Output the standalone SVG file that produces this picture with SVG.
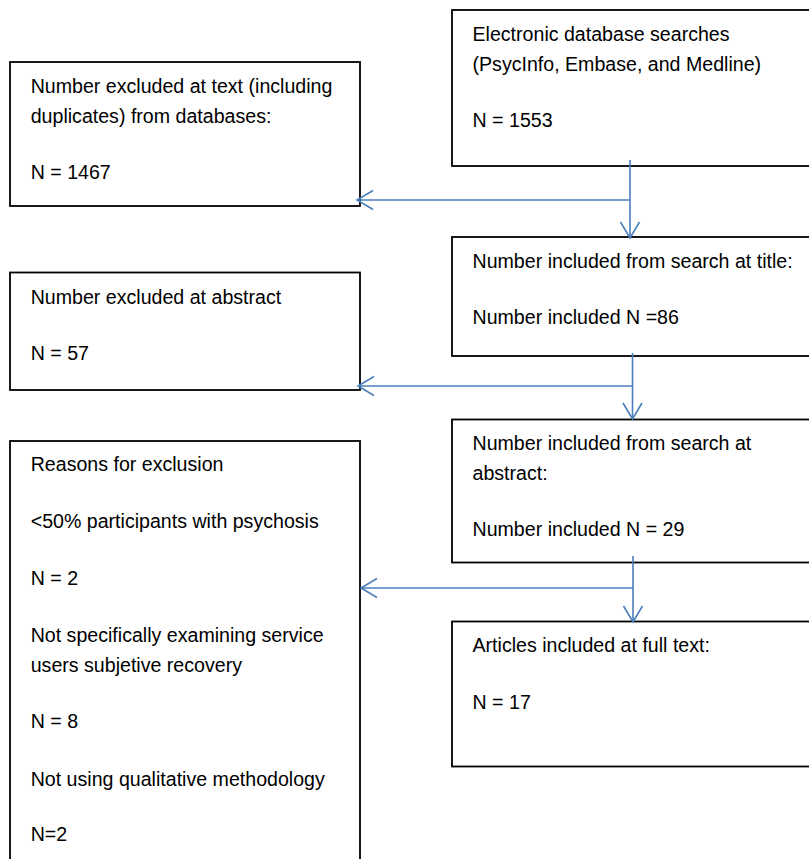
<svg xmlns="http://www.w3.org/2000/svg" width="809" height="859" viewBox="0 0 809 859">
<defs>
<style>
.box{fill:#fff;stroke:#000;stroke-width:1.8}
.t{font-family:"Liberation Sans",Arial,sans-serif;font-size:19.6px;fill:#000}
.c{fill:none;stroke:#4A7EBB;stroke-width:1.6}
</style>
<marker id="ah" markerUnits="userSpaceOnUse" markerWidth="24" markerHeight="24" viewBox="-18 -12 20 24" refX="0" refY="0" orient="auto">
<path d="M-16,-9.5 L0,0 L-16,9.5" fill="none" stroke="#4A7EBB" stroke-width="1.6"/>
</marker>
</defs>
<rect width="809" height="859" fill="#fff"/>
<g id="n1">
<rect class="box" x="452" y="10" width="370" height="156"/>
<text class="t" x="472.5" y="40.7">Electronic database searches</text>
<text class="t" x="472.5" y="71">(PsycInfo, Embase, and Medline)</text>
<text class="t" x="472.5" y="126.7">N = 1553</text>
</g>
<g id="n2">
<rect class="box" x="10" y="62" width="350" height="144"/>
<text class="t" x="30.7" y="93.3">Number excluded at text (including</text>
<text class="t" x="30.7" y="123.3">duplicates) from databases:</text>
<text class="t" x="30.7" y="179.3">N = 1467</text>
</g>
<g id="n3">
<rect class="box" x="452" y="237" width="370" height="119"/>
<text class="t" x="472.5" y="268.3">Number included from search at title:</text>
<text class="t" x="472.5" y="324">Number included N =86</text>
</g>
<g id="n4">
<rect class="box" x="10" y="272.5" width="350" height="117.5"/>
<text class="t" x="30.7" y="304">Number excluded at abstract</text>
<text class="t" x="30.7" y="360">N = 57</text>
</g>
<g id="n5">
<rect class="box" x="452" y="419.5" width="370" height="143"/>
<text class="t" x="472.5" y="450">Number included from search at</text>
<text class="t" x="472.5" y="480">abstract:</text>
<text class="t" x="472.5" y="536">Number included N = 29</text>
</g>
<g id="n6">
<rect class="box" x="452" y="621.5" width="370" height="145"/>
<text class="t" x="472.5" y="651.7">Articles included at full text:</text>
<text class="t" x="472.5" y="709">N = 17</text>
</g>
<g id="n7">
<rect class="box" x="10" y="441" width="350" height="430"/>
<text class="t" x="30.7" y="470.7">Reasons for exclusion</text>
<text class="t" x="30.7" y="528.3">&lt;50% participants with psychosis</text>
<text class="t" x="30.7" y="585">N = 2</text>
<text class="t" x="30.7" y="641.7">Not specifically examining service</text>
<text class="t" x="30.7" y="671.7">users subjetive recovery</text>
<text class="t" x="30.7" y="728.3">N = 8</text>
<text class="t" x="30.7" y="785.7">Not using qualitative methodology</text>
<text class="t" x="30.7" y="841">N=2</text>
</g>
<g id="connectors">
<line class="c" x1="630" y1="160" x2="630" y2="238" marker-end="url(#ah)"/>
<line class="c" x1="630" y1="200" x2="357" y2="200" marker-end="url(#ah)"/>
<line class="c" x1="632.5" y1="353" x2="632.5" y2="419" marker-end="url(#ah)"/>
<line class="c" x1="632.5" y1="386" x2="358" y2="386" marker-end="url(#ah)"/>
<line class="c" x1="633" y1="556" x2="633" y2="622" marker-end="url(#ah)"/>
<line class="c" x1="633" y1="588" x2="361" y2="588" marker-end="url(#ah)"/>
</g>
</svg>
